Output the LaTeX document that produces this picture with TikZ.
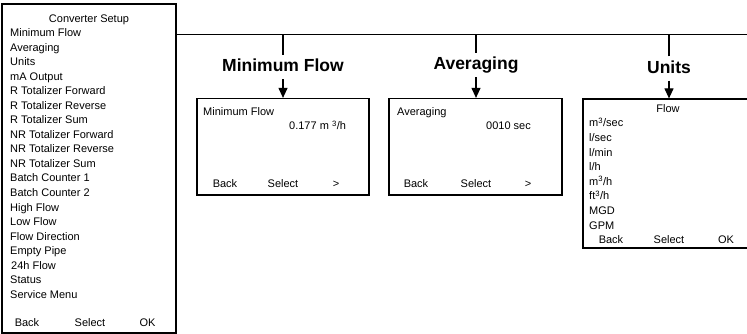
\documentclass[tikz,border=0pt]{standalone}
\usepackage{fontspec}
\setmainfont{Liberation Sans}
\usetikzlibrary{arrows.meta,positioning}

\begin{document}
\begin{tikzpicture}[
  x=1pt, y=-1pt,
  screen/.style={draw, line width=1.2pt, inner sep=0},
  txt/.style={inner sep=0, font=\fontsize{11}{13}\selectfont, text height=8pt, text depth=0pt},
  title/.style={inner sep=0, anchor=base, font=\fontsize{17.5}{20}\selectfont\bfseries, text height=17pt, text depth=7pt},
  wire/.style={line width=1.1pt},
  arrow/.style={-{Triangle[length=10pt,width=9pt]}, line width=1.1pt}
]
\useasboundingbox (0,0) rectangle (747,334);
% left menu screen
\node[screen, minimum width=174, minimum height=329] (setup) at (89,168.5) {};
\node[txt] (setuphead) at (89,19) {Converter Setup};
\node[txt, anchor=west] (s1) at (10,32.5) {Minimum Flow};
\node[txt, anchor=west] (s2) at (10,47.05) {Averaging};
\node[txt, anchor=west] (s3) at (10,61.6) {Units};
\node[txt, anchor=west] (s4) at (10,76.15) {mA Output};
\node[txt, anchor=west] (s5) at (10,90.7) {R Totalizer Forward};
\node[txt, anchor=west] (s6) at (10,105.25) {R Totalizer Reverse};
\node[txt, anchor=west] (s7) at (10,119.8) {R Totalizer Sum};
\node[txt, anchor=west] (s8) at (10,134.35) {NR Totalizer Forward};
\node[txt, anchor=west] (s9) at (10,148.9) {NR Totalizer Reverse};
\node[txt, anchor=west] (s10) at (10,163.45) {NR Totalizer Sum};
\node[txt, anchor=west] (s11) at (10,178) {Batch Counter 1};
\node[txt, anchor=west] (s12) at (10,192.55) {Batch Counter 2};
\node[txt, anchor=west] (s13) at (10,207.1) {High Flow};
\node[txt, anchor=west] (s14) at (10,221.65) {Low Flow};
\node[txt, anchor=west] (s15) at (10,236.2) {Flow Direction};
\node[txt, anchor=west] (s16) at (10,250.75) {Empty Pipe};
\node[txt, anchor=west] (s17) at (11,265.3) {24h Flow};
\node[txt, anchor=west] (s18) at (10,279.85) {Status};
\node[txt, anchor=west] (s19) at (10,294.4) {Service Menu};
\node[txt] (setupback) at (27,322) {Back};
\node[txt] (setupsel) at (90,322) {Select};
\node[txt] (setupok) at (147.5,322) {OK};

% bus line
\coordinate (busend) at (747,34.5);
\draw[wire] (setup.east |- busend) -- (busend);

% Minimum Flow
\node[title] (minlbl) at (283,72) {Minimum Flow};
\node[screen, minimum width=172, minimum height=96.5] (minbox) at (283,146.75) {};
\node[txt, anchor=west] (minhead) at (203,112) {Minimum Flow};
\node[txt, anchor=west] (minval) at (289,126) {0.177 m \textsuperscript{3}/h};
\node[txt] (minback) at (225,183) {Back};
\node[txt] (minsel) at (283,183) {Select};
\node[txt] (minnext) at (336,183) {>};
\draw[wire] (minlbl.north) -- (minlbl.north |- busend);
\draw[arrow] (minlbl.south) -- (minbox.north);

% Averaging
\node[title] (avglbl) at (476,70) {Averaging};
\node[screen, minimum width=173, minimum height=96.5] (avgbox) at (475.5,146.75) {};
\node[txt, anchor=west] (avghead) at (397,112) {Averaging};
\node[txt] (avgval) at (508.5,126) {0010 sec};
\node[txt] (avgback) at (416,183) {Back};
\node[txt] (avgsel) at (476,183) {Select};
\node[txt] (avgnext) at (528,183) {>};
\draw[wire] (avglbl.north) -- (avglbl.north |- busend);
\draw[arrow] (avglbl.south) -- (avgbox.north -| avglbl.south);

% Units
\node[title] (unitlbl) at (669,73.5) {Units};
\node[screen, minimum width=177, minimum height=149] (unitbox) at (671.5,173.5) {};
\node[txt] (unithead) at (668,109) {Flow};
\node[txt, anchor=west] (u1) at (589,123) {m\textsuperscript{3}/sec};
\node[txt, anchor=west] (u2) at (589,137.6) {l/sec};
\node[txt, anchor=west] (u3) at (589,152.2) {l/min};
\node[txt, anchor=west] (u4) at (589,166.8) {l/h};
\node[txt, anchor=west] (u5) at (589,181.4) {m\textsuperscript{3}/h};
\node[txt, anchor=west] (u6) at (589,196) {ft\textsuperscript{3}/h};
\node[txt, anchor=west] (u7) at (589,210.6) {MGD};
\node[txt, anchor=west] (u8) at (589,225.2) {GPM};
\node[txt] (unitback) at (611,239) {Back};
\node[txt] (unitsel) at (669,239) {Select};
\node[txt] (unitok) at (726,239) {OK};
\draw[wire] (unitlbl.north) -- (unitlbl.north |- busend);
\draw[arrow] (unitlbl.south) -- (unitbox.north -| unitlbl.south);
\end{tikzpicture}
\end{document}
